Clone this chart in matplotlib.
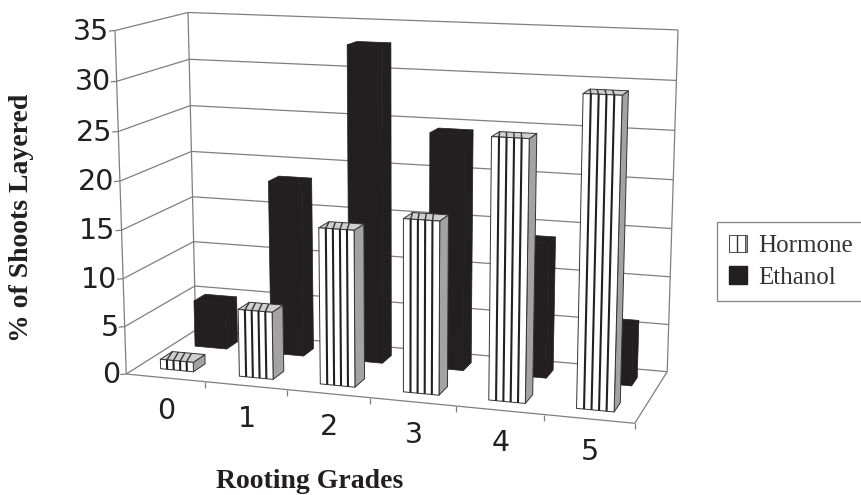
import numpy as np
import matplotlib
matplotlib.use("Agg")
import matplotlib.pyplot as plt
from matplotlib.patches import Polygon, Patch

# ---- data ----
categories = ["0", "1", "2", "3", "4", "5"]
hormone = [1, 7, 16, 17.5, 26, 30.5]
ethanol = [5, 18.5, 33, 24.5, 14, 6]
z_ticks = [0, 5, 10, 15, 20, 25, 30, 35]
series_names = ["Hormone", "Ethanol"]

# ---- perspective camera fitted to the box corners ----
world = np.array([[0, 0, 0], [6, 0, 0], [6, 1, 0], [0, 1, 0],
                  [0, 1, 35], [6, 1, 35], [0, 0, 35]], float)
screen = np.array([[126, 373], [635, 424], [667, 371], [196, 331],
                   [188, 12], [678, 30], [115, 31]], float)
A = []
for (X, Y, Z), (u, v) in zip(world, screen):
    P = [X, Y, Z / 35, 1]
    A.append(P + [0, 0, 0, 0] + [-u * p for p in P])
    A.append([0, 0, 0, 0] + P + [-v * p for p in P])
M = np.linalg.svd(np.array(A))[2][-1].reshape(3, 4)


def proj(x, y, z):
    h = M @ np.array([x, y, z / 35, 1.0])
    return h[0] / h[2], h[1] / h[2]


fig = plt.figure(figsize=(8.62, 4.95), dpi=100)
ax = fig.add_axes([0, 0, 1, 1])
ax.set_xlim(0, 862)
ax.set_ylim(495, 0)
ax.axis("off")

GRID = "#7f7f7f"
INK = "#231f20"


def seg(p, q, color=GRID, lw=0.9, zo=1):
    ax.plot([p[0], q[0]], [p[1], q[1]], color=color, lw=lw, zorder=zo,
            solid_capstyle="butt")


# walls and gridlines
for z in z_ticks:
    seg(proj(0, 0, z), proj(0, 1, z))
    seg(proj(0, 1, z), proj(6, 1, z))
    a = proj(0, 0, z)
    seg((a[0] - 6, a[1] + 0.5), a)
    ax.text(a[0] - 6, a[1] + 1, str(z), ha="right", va="center",
            fontsize=20.5, color=INK, family="DejaVu Sans")
seg(proj(0, 0, 0), proj(0, 0, 35))
seg(proj(0, 1, 0), proj(0, 1, 35))
seg(proj(6, 1, 0), proj(6, 1, 35))
seg(proj(0, 0, 0), proj(6, 0, 0))
seg(proj(6, 0, 0), proj(6, 1, 0))

# category ticks and labels
for i, c in enumerate(categories):
    p = proj(i + 1, 0, 0)
    seg(p, (p[0], p[1] + 6))
    q = proj(i + 0.5, 0, 0)
    ax.text(q[0] + 1, q[1] + 33, c, ha="center", va="center",
            fontsize=20.5, color=INK, family="DejaVu Sans")

BAR_W = 0.42
BAR_D = 0.17


def bar(i, val, y0, striped, zo):
    x0 = i + 0.5 - BAR_W / 2
    x1 = x0 + BAR_W
    y1 = y0 + BAR_D
    front = [proj(x0, y0, 0), proj(x1, y0, 0), proj(x1, y0, val), proj(x0, y0, val)]
    side = [proj(x1, y0, 0), proj(x1, y1, 0), proj(x1, y1, val), proj(x1, y0, val)]
    top = [proj(x0, y0, val), proj(x1, y0, val), proj(x1, y1, val), proj(x0, y1, val)]
    if striped:
        kw = dict(edgecolor="#333333", lw=0.7, zorder=zo, joinstyle="round")
        ax.add_patch(Polygon(side, facecolor="#a3a3a3", **kw))
        ax.add_patch(Polygon(top, facecolor="#cfcfcf", **kw))
        ax.add_patch(Polygon(front, facecolor="white", **kw))
        for f in (0.2, 0.4, 0.6, 0.8):
            xf = x0 + f * BAR_W
            seg(proj(xf, y0, 0), proj(xf, y0, val), INK, 1.5, zo + 0.1)
            xb = max(x0, xf - 0.09)
            seg(proj(xf, y0, val), proj(xb, y1, val), "#333333", 1.0, zo + 0.1)
    else:
        for poly in (side, top, front):
            ax.add_patch(Polygon(poly, facecolor=INK, edgecolor=INK, lw=0.5, zorder=zo))


for i, v in enumerate(ethanol):
    bar(i, v, 0.66, False, 3 + i * 0.2)
for i, v in enumerate(hormone):
    bar(i, v, 0.16, True, 5 + i * 0.2)

# axis titles
ax.text(22, 218, "% of Shoots Layered", rotation=90, ha="center", va="center",
        fontsize=20, fontweight="bold", family="Liberation Serif", color=INK)
ax.text(310, 482, "Rooting Grades", ha="center", va="center",
        fontsize=20, fontweight="bold", family="Liberation Serif", color=INK)

# legend
handles = [Patch(facecolor="white", edgecolor="#333333", hatch="||", lw=0.6),
           Patch(facecolor=INK, edgecolor=INK)]
leg = ax.legend(handles, series_names, loc="lower left",
                bbox_to_anchor=(717, 301), bbox_transform=ax.transData,
                borderaxespad=0, borderpad=0.5, handlelength=0.7, handleheight=0.7,
                handletextpad=0.45, labelspacing=0.35, fancybox=False,
                edgecolor="#8a8a8a", framealpha=1,
                prop={"family": "Liberation Serif", "size": 18})
for t in leg.get_texts():
    t.set_color("#333333")
leg.get_frame().set_linewidth(1.0)

fig.savefig("out.png", dpi=100)
